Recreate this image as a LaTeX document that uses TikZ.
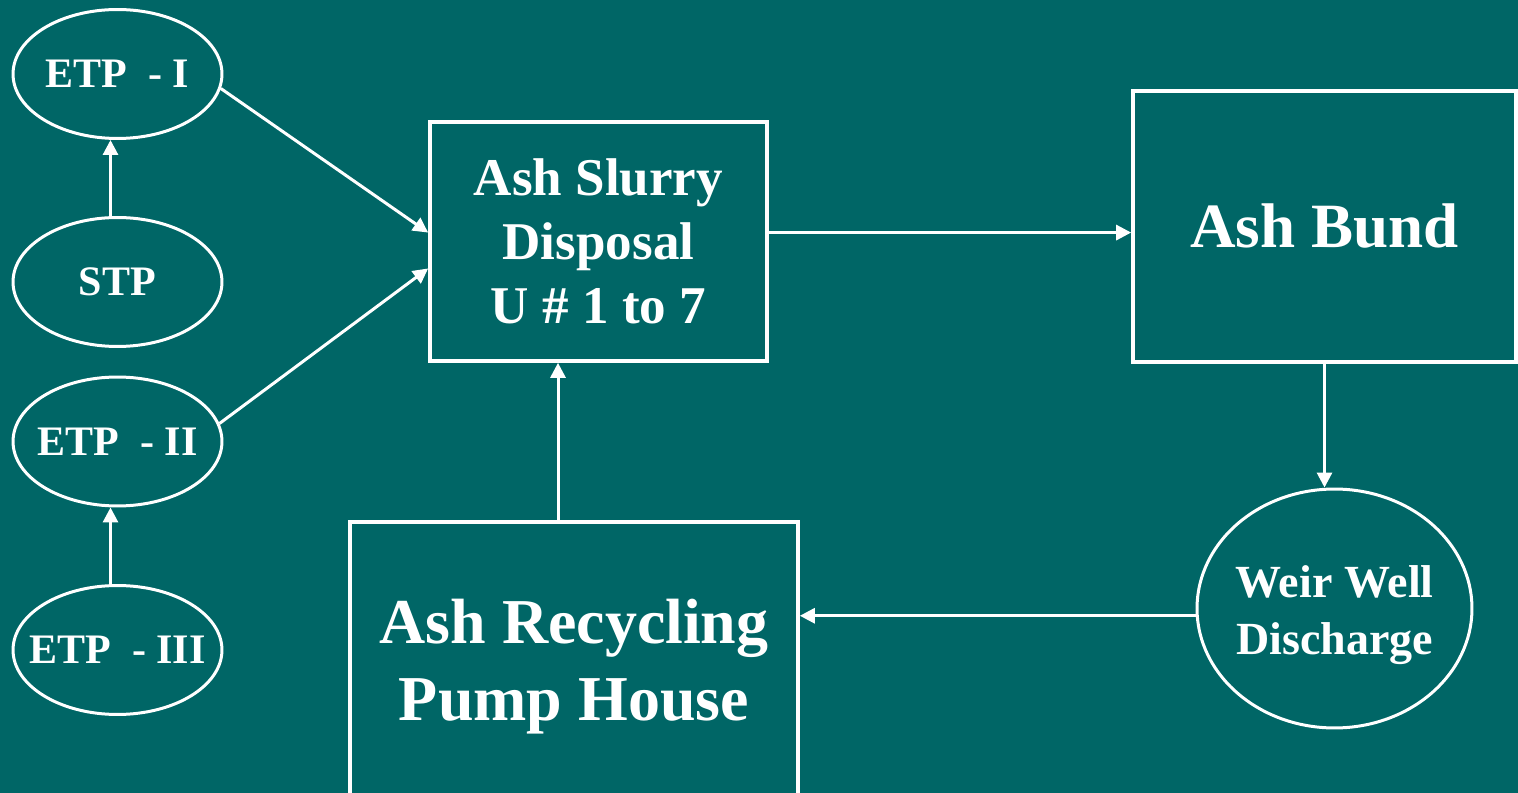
\documentclass[tikz,border=0pt]{standalone}
\usepackage{fontspec}
\setmainfont{Liberation Serif}
\usetikzlibrary{positioning,shapes.geometric,arrows.meta}
\definecolor{slide}{RGB}{0,102,102}
\newcommand{\etext}[1]{\makebox[0pt]{#1}}

\begin{document}
\begin{tikzpicture}[
    x=0.02cm, y=-0.02cm,
    every node/.style={text=white},
    etp/.style={ellipse,draw=white,line width=0.06cm,minimum width=4.18cm,minimum height=2.58cm,inner sep=0pt,font=\bfseries\fontsize{23.9pt}{28pt}\selectfont},
    well/.style={ellipse,draw=white,line width=0.06cm,minimum width=5.5cm,minimum height=4.78cm,inner sep=0pt,font=\bfseries\fontsize{26.2pt}{32.4pt}\selectfont},
    unit/.style={rectangle,draw=white,line width=0.075cm,inner sep=0pt,align=center},
    flow/.style={->,white,line width=0.06cm},
    >={Triangle[length=0.3cm,width=0.3cm]}
  ]
  \useasboundingbox (0,0) rectangle (1518,793);
  \clip (0,0) rectangle (1518,793);
  \fill[slide] (0,0) rectangle (1518,793);

  \node[etp] (etp_i) at (117.5,74) {\etext{ETP~~- I}};
  \node[etp] (stp) at (117.5,282) {\etext{STP}};
  \node[etp] (etp_ii) at (117.5,441.5) {\etext{ETP~~- II}};
  \node[etp] (etp_iii) at (117.5,650) {\etext{ETP~~- III}};
  \node[unit,minimum width=6.74cm,minimum height=4.78cm,font=\bfseries\fontsize{30.2pt}{36.4pt}\selectfont] (slurry) at (598.5,241.5) {Ash Slurry\\Disposal\\U \# 1 to 7};
  \node[unit,minimum width=7.66cm,minimum height=5.42cm,font=\bfseries\fontsize{35.9pt}{43pt}\selectfont] (bund) at (1324.5,226.5) {Ash Bund};
  \node[well] (weir) at (1334.5,608.5) {\etext{\begin{tabular}{c}\rule{0pt}{30pt}Weir Well\\Discharge\end{tabular}}};
  \node[unit,minimum width=8.96cm,minimum height=5.8cm,font=\bfseries\fontsize{36.4pt}{43.8pt}\selectfont] (pump) at (574,667) {Ash Recycling\\Pump House};

  % Flows
  \draw[flow] ([xshift=-0.14cm]stp.north) -- ([xshift=-0.14cm]etp_i.south);
  \draw[flow] ([xshift=-0.14cm]etp_iii.north) -- ([xshift=-0.14cm]etp_ii.south);
  \draw[flow] (etp_i.352) -- (slurry.177);
  \draw[flow] (etp_ii.10) -- (slurry.189);
  \draw[flow] (slurry.3) -- (slurry.3 -| bund.west);
  \draw[flow] (bund.south) -- (bund.south |- weir.north);
  \draw[flow] (weir.183) -- (weir.183 -| pump.east);
  \draw[flow] ([xshift=-0.32cm]pump.north) coordinate (riser) -- (riser |- slurry.south);
\end{tikzpicture}
\end{document}
